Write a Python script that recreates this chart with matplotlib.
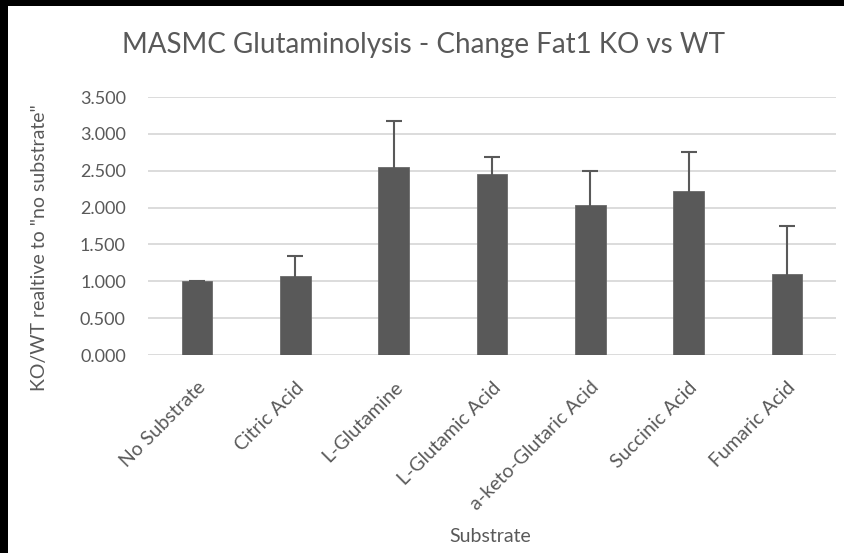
import matplotlib
matplotlib.use("Agg")
import matplotlib.pyplot as plt
from matplotlib.patches import Rectangle

categories = ["No Substrate", "Citric Acid", "L-Glutamine", "L-Glutamic Acid",
              "a-keto-Glutaric Acid", "Succinic Acid", "Fumaric Acid"]
values = [1.00, 1.07, 2.555, 2.46, 2.04, 2.23, 1.10]
errors = [0.01, 0.27, 0.62, 0.23, 0.46, 0.52, 0.65]
yticks = [0.0, 0.5, 1.0, 1.5, 2.0, 2.5, 3.0, 3.5]
ytick_labels = ["0.000", "0.500", "1.000", "1.500", "2.000", "2.500", "3.000", "3.500"]

W, H = 844, 553
plt.rcParams['font.family'] = ['Lato', 'DejaVu Sans']
gray = "#595959"

fig = plt.figure(figsize=(W / 100, H / 100), dpi=100)
fig.patch.set_facecolor("white")
ax = fig.add_axes([148 / W, 1 - 355 / H, (836 - 148) / W, (355 - 97) / H])

x = list(range(len(categories)))
ax.bar(x, values, width=0.31, color=gray, edgecolor="#6a6a6a", linewidth=0.6, zorder=3)
ax.errorbar(x, values, yerr=errors, fmt="none", ecolor=gray, elinewidth=1.5,
            capsize=6, capthick=1.5, zorder=4)

ax.set_xlim(-0.5, len(categories) - 0.5)
ax.set_ylim(0, 3.5)
ax.set_yticks(yticks)
ax.set_yticklabels(ytick_labels, fontsize=13, color=gray)
ax.yaxis.grid(True, color="#d9d9d9", linewidth=1.3, zorder=0)
ax.set_axisbelow(True)
for s in ["top", "right", "left", "bottom"]:
    ax.spines[s].set_visible(False)
ax.tick_params(axis="both", length=0)
ax.tick_params(axis="y", pad=16)

ax.set_xticks(x)
ax.set_xticklabels(categories, rotation=45, ha="right", rotation_mode="anchor",
                   fontsize=14, color=gray)
ax.tick_params(axis="x", pad=17)

fig.text(423 / W, 1 - 45 / H, "MASMC Glutaminolysis - Change Fat1 KO vs WT",
         ha="center", va="center", fontsize=20, color=gray)
fig.text(40 / W, 1 - 248 / H, 'KO/WT realtive to "no substrate"', rotation=90,
         ha="center", va="center", fontsize=14, color=gray)
fig.text(490 / W, 1 - 537 / H, "Substrate", ha="center", va="center",
         fontsize=14, color=gray)

# black borders (screenshot edges)
fig.add_artist(Rectangle((0, 1 - 6 / H), 1, 6 / H, transform=fig.transFigure,
                         facecolor="black", edgecolor="none", zorder=10))
fig.add_artist(Rectangle((0, 0), 8 / W, 1, transform=fig.transFigure,
                         facecolor="black", edgecolor="none", zorder=10))

fig.savefig("out.png", dpi=100, facecolor="white")
